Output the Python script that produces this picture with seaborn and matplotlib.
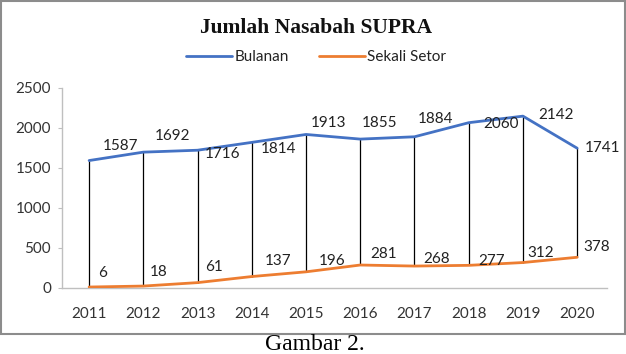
import numpy as np
import pandas as pd
import matplotlib.pyplot as plt
import seaborn as sns
from matplotlib.patches import Rectangle

# data
years = ["2011", "2012", "2013", "2014", "2015", "2016", "2017", "2018", "2019", "2020"]
bulanan = [1587, 1692, 1716, 1814, 1913, 1855, 1884, 2060, 2142, 1741]
sekali_setor = [6, 18, 61, 137, 196, 281, 268, 277, 312, 378]

# label offsets in pixels (dx, dy), dy up
off_bulanan = [(31, 15), (29, 16), (25, -4), (27, -7), (23, 11), (19, 16), (21, 18), (32, -1), (33, 1), (25, 0)]
off_setor = [(13, 14), (15, 14), (16, 16), (26, 16), (26, 11), (23, 11), (22, 7), (23, 4), (18, 10), (19, 10)]

blue = "#4472C4"
orange = "#ED7D31"

df = pd.DataFrame({
    "tahun": years * 2,
    "jumlah": bulanan + sekali_setor,
    "jenis": ["Bulanan"] * len(years) + ["Sekali Setor"] * len(years),
})
df["pos"] = list(range(len(years))) * 2

sns.set_theme(style="white")
plt.rcParams["font.family"] = ["Lato", "DejaVu Sans"]

fig = plt.figure(figsize=(6.26, 3.54), dpi=100)
ax = fig.add_axes([62 / 626, 1 - 287.5 / 354, 545 / 626, 200 / 354])

# high-low lines
pos = np.arange(len(years))
ax.vlines(pos, sekali_setor, bulanan, color="black", lw=0.9, zorder=1)

sns.lineplot(data=df, x="pos", y="jumlah", hue="jenis", palette=[blue, orange],
             lw=2, ax=ax, legend=False, zorder=3)

for i in range(len(years)):
    ax.annotate(str(bulanan[i]), (pos[i], bulanan[i]), xytext=off_bulanan[i],
                textcoords="offset pixels", ha="center", va="center", fontsize=11, color="#222222")
    ax.annotate(str(sekali_setor[i]), (pos[i], sekali_setor[i]), xytext=off_setor[i],
                textcoords="offset pixels", ha="center", va="center", fontsize=11, color="#222222")

ax.set_xlim(-0.5, 9.55)
ax.set_ylim(0, 2500)
ax.set_xticks(pos)
ax.set_xticklabels(years)
ax.set_yticks(range(0, 2501, 500))
ax.set_xlabel("")
ax.set_ylabel("")
ax.tick_params(axis="both", labelsize=11, colors="#333333")
ax.tick_params(axis="y", left=True, length=3, width=0.8, color="#bfbfbf", pad=5)
ax.tick_params(axis="x", bottom=False, pad=8)
for s in ["top", "right"]:
    ax.spines[s].set_visible(False)
for s in ["left", "bottom"]:
    ax.spines[s].set_color("#bfbfbf")
    ax.spines[s].set_linewidth(1)

# legend
handles = [plt.Line2D([], [], color=blue, lw=2), plt.Line2D([], [], color=orange, lw=2)]
fig.legend(handles, ["Bulanan", "Sekali Setor"], loc="center", bbox_to_anchor=(0.505, 1 - 57 / 354),
           ncol=2, frameon=False, fontsize=11, handlelength=3.0, handletextpad=0.15,
           columnspacing=2.0, labelcolor="#222222")

fig.text(0.504, 1 - 28 / 354, "Jumlah Nasabah SUPRA", ha="center", va="center",
         fontsize=15.5, fontweight="bold", family=["Liberation Serif"], color="#111111")

# border around chart area
fig.add_artist(Rectangle((0.5 / 626, 1 - 334 / 354), 624.5 / 626, 333.5 / 354, transform=fig.transFigure,
                         fill=False, edgecolor="#8c8c8c", lw=1.5))

fig.text(0.503, 1 - 344 / 354, "Gambar 2.", ha="center", va="center", fontsize=17,
         family=["Liberation Serif"], color="black")

fig.savefig("out.png", dpi=100)
